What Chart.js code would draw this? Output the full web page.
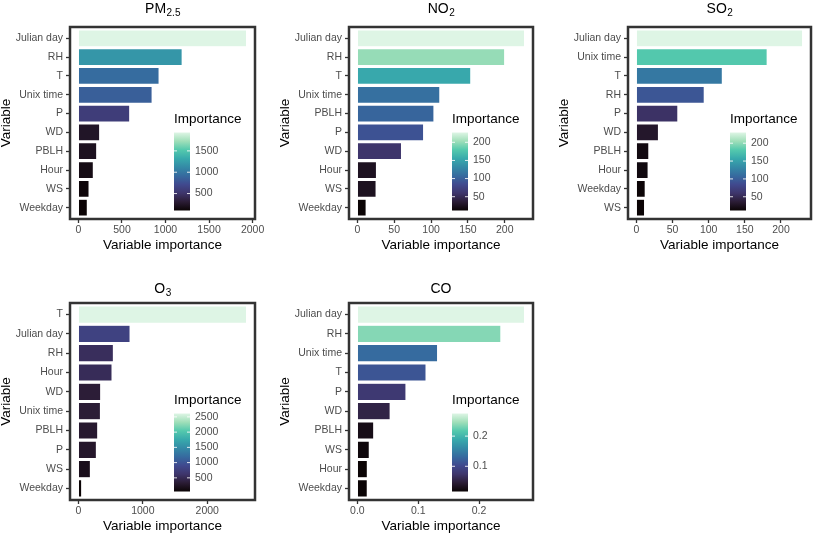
<!DOCTYPE html>
<html>
<head>
<meta charset="utf-8">
<script src="https://cdn.jsdelivr.net/npm/chart.js@4.4.0/dist/chart.umd.min.js"></script>
<style>
  body { margin: 0; background: #fff; width: 813px; height: 534px; position: relative; overflow: hidden; }
  canvas { position: absolute; }
</style>
</head>
<body>
<canvas id="pm25"></canvas>
<canvas id="no2"></canvas>
<canvas id="so2"></canvas>
<canvas id="o3"></canvas>
<canvas id="co"></canvas>
<script>
// ---- data ----
const pm25Vars = ['Julian day', 'RH', 'T', 'Unix time', 'P', 'WD', 'PBLH', 'Hour', 'WS', 'Weekday'];
const pm25Values = [1931, 1192, 927, 847, 590, 245, 211, 172, 123, 103];
const pm25XTicks = ['0', '500', '1000', '1500', '2000'];
const pm25LegendTicks = ['500', '1000', '1500'];

const no2Vars = ['Julian day', 'RH', 'T', 'Unix time', 'PBLH', 'P', 'WD', 'Hour', 'WS', 'Weekday'];
const no2Values = [227, 200, 154, 112, 104, 90, 60, 26, 25.5, 12];
const no2XTicks = ['0', '50', '100', '150', '200'];
const no2LegendTicks = ['50', '100', '150', '200'];

const so2Vars = ['Julian day', 'Unix time', 'T', 'RH', 'P', 'WD', 'PBLH', 'Hour', 'Weekday', 'WS'];
const so2Values = [230, 181, 119, 94, 57.5, 30.7, 17.4, 16.4, 12.4, 11.5];
const so2XTicks = ['0', '50', '100', '150', '200'];
const so2LegendTicks = ['50', '100', '150', '200'];

const o3Vars = ['T', 'Julian day', 'RH', 'Hour', 'WD', 'Unix time', 'PBLH', 'P', 'WS', 'Weekday'];
const o3Values = [2611, 803, 544, 523, 347, 343, 301, 280, 187, 52];
const o3XTicks = ['0', '1000', '2000'];
const o3LegendTicks = ['500', '1000', '1500', '2000', '2500'];

const coVars = ['Julian day', 'RH', 'Unix time', 'T', 'P', 'WD', 'PBLH', 'WS', 'Hour', 'Weekday'];
const coValues = [0.275, 0.236, 0.132, 0.113, 0.080, 0.054, 0.027, 0.0197, 0.0165, 0.0164];
const coXTicks = ['0.0', '0.1', '0.2'];
const coLegendTicks = ['0.1', '0.2'];

// ---- mako palette ----
const MAKO = ['#0B0405', '#2B1C35', '#3E356B', '#40498E', '#366A9F', '#348AA6', '#38AAAC', '#54C9AD', '#A0DFB9', '#DEF5E5'];
function hexRgb(h) {
    return [parseInt(h.slice(1, 3), 16), parseInt(h.slice(3, 5), 16), parseInt(h.slice(5, 7), 16)];
}
function mako(t) {
    t = Math.max(0, Math.min(1, t));
    const p = t * (MAKO.length - 1);
    const i = Math.min(Math.floor(p), MAKO.length - 2);
    const f = p - i;
    const a = hexRgb(MAKO[i]), b = hexRgb(MAKO[i + 1]);
    const c = a.map((v, k) => Math.round(v + (b[k] - v) * f));
    return `rgb(${c[0]},${c[1]},${c[2]})`;
}

const FONT = '"Liberation Sans", Arial, sans-serif';
const TICK_COLOR = '#4d4d4d';
const LINE_COLOR = '#333333';

// panel layout: plot box [left, top, right, bottom] on the page
const panels = [
    { id: 'pm25', title: 'PM', sub: '2.5', vars: pm25Vars, values: pm25Values, xTicks: pm25XTicks, legendTicks: pm25LegendTicks, box: [70, 27, 255, 219], titleBase: 12.5 },
    { id: 'no2', title: 'NO', sub: '2', vars: no2Vars, values: no2Values, xTicks: no2XTicks, legendTicks: no2LegendTicks, box: [349, 27, 533, 219], titleBase: 12.5 },
    { id: 'so2', title: 'SO', sub: '2', vars: so2Vars, values: so2Values, xTicks: so2XTicks, legendTicks: so2LegendTicks, box: [628, 27, 811, 219], titleBase: 12.5 },
    { id: 'o3', title: 'O', sub: '3', vars: o3Vars, values: o3Values, xTicks: o3XTicks, legendTicks: o3LegendTicks, box: [70, 303, 255, 500], titleBase: 17 },
    { id: 'co', title: 'CO', sub: '', vars: coVars, values: coValues, xTicks: coXTicks, legendTicks: coLegendTicks, box: [349, 303, 533, 500], titleBase: 17 }
];

const LEFT_W = 70, TOP_H = 27, BOTTOM_H = 36, RIGHT_PAD = 14;

// Title, panel border and colour bar legend
const decorPlugin = {
    id: 'decor',
    afterDraw(chart, args, opts) {
        const { ctx, chartArea: a } = chart;
        const p = opts.panel;
        ctx.save();

        // border
        ctx.strokeStyle = LINE_COLOR;
        ctx.lineWidth = 2.5;
        ctx.strokeRect(a.left, a.top, a.right - a.left, a.bottom - a.top);

        // title with subscript
        ctx.fillStyle = '#000';
        ctx.textBaseline = 'alphabetic';
        ctx.textAlign = 'left';
        ctx.font = `14px ${FONT}`;
        const wMain = ctx.measureText(p.title).width;
        ctx.font = `10px ${FONT}`;
        const wSub = p.sub ? ctx.measureText(p.sub).width : 0;
        const cx = (a.left + a.right) / 2;
        const x0 = cx - (wMain + wSub) / 2;
        ctx.font = `14px ${FONT}`;
        ctx.fillText(p.title, x0, p.titleBase);
        if (p.sub) {
            ctx.font = `10px ${FONT}`;
            ctx.fillText(p.sub, x0 + wMain + 0.5, p.titleBase + 3);
        }

        // colour bar
        const min = Math.min(...p.values), max = Math.max(...p.values);
        const barL = a.right - 81, barW = 16;
        const barB = a.bottom - 8.5, barT = barB - 78;
        const grad = ctx.createLinearGradient(0, barB, 0, barT);
        MAKO.forEach((c, i) => grad.addColorStop(i / (MAKO.length - 1), c));
        ctx.fillStyle = grad;
        ctx.fillRect(barL, barT, barW, barB - barT);

        ctx.fillStyle = '#000';
        ctx.font = `13.5px ${FONT}`;
        ctx.textBaseline = 'middle';
        ctx.fillText('Importance', barL, a.bottom - 100);

        ctx.font = `10.5px ${FONT}`;
        ctx.fillStyle = TICK_COLOR;
        ctx.strokeStyle = 'rgba(255,255,255,0.85)';
        ctx.lineWidth = 1;
        p.legendTicks.forEach(lbl => {
            const v = Number(lbl);
            const y = barB - (v - min) / (max - min) * (barB - barT);
            ctx.beginPath();
            ctx.moveTo(barL, y); ctx.lineTo(barL + 3, y);
            ctx.moveTo(barL + barW - 3, y); ctx.lineTo(barL + barW, y);
            ctx.stroke();
            ctx.fillText(lbl, barL + barW + 5, y);
        });
        ctx.restore();
    }
};

panels.forEach(p => {
    const cv = document.getElementById(p.id);
    const [bl, bt, br, bb] = p.box;
    cv.style.left = (bl - LEFT_W) + 'px';
    cv.style.top = (bt - TOP_H) + 'px';
    cv.width = (br - bl) + LEFT_W + RIGHT_PAD;
    cv.height = (bb - bt) + TOP_H + BOTTOM_H;

    const min = Math.min(...p.values), max = Math.max(...p.values);
    const points = p.values.map((v, i) => ({ x: v, y: i }));
    const xTickValues = p.xTicks.map(Number);

    new Chart(cv.getContext('2d'), {
        type: 'bar',
        data: {
            datasets: [{
                data: points,
                backgroundColor: p.values.map(v => mako((v - min) / (max - min))),
                borderColor: 'rgba(255,255,255,0.6)',
                borderWidth: 0.6,
                categoryPercentage: 0.9,
                barPercentage: 1
            }]
        },
        options: {
            indexAxis: 'y',
            responsive: false,
            animation: false,
            events: [],
            layout: { padding: { top: TOP_H, right: RIGHT_PAD, left: 0, bottom: 0 } },
            plugins: {
                legend: { display: false },
                tooltip: { enabled: false },
                decor: { panel: p }
            },
            scales: {
                y: {
                    type: 'linear',
                    reverse: true,
                    offset: false,
                    min: -0.6,
                    max: p.vars.length - 0.4,
                    afterBuildTicks: s => { s.ticks = p.vars.map((_, i) => ({ value: i })); },
                    afterFit: s => { s.width = LEFT_W; s.paddingTop = 0; s.paddingBottom = 0; },
                    ticks: {
                        callback: v => p.vars[v],
                        color: TICK_COLOR,
                        font: { family: FONT, size: 10.5 },
                        padding: 3,
                        autoSkip: false
                    },
                    grid: { offset: false, drawOnChartArea: false, drawTicks: true, tickLength: 4, tickColor: LINE_COLOR, tickWidth: 1.3 },
                    border: { display: false },
                    title: {
                        display: true,
                        text: 'Variable',
                        color: '#000',
                        font: { family: FONT, size: 13.5, lineHeight: 1 },
                        padding: { top: 0, bottom: 0 }
                    }
                },
                x: {
                    type: 'linear',
                    min: -0.05 * max,
                    max: 1.05 * max,
                    afterBuildTicks: s => { s.ticks = xTickValues.map(v => ({ value: v })); },
                    afterFit: s => { s.height = BOTTOM_H; s.paddingLeft = 0; s.paddingRight = 0; },
                    ticks: {
                        callback: (v, i) => p.xTicks[i],
                        color: TICK_COLOR,
                        font: { family: FONT, size: 10.5 },
                        padding: 1,
                        maxRotation: 0,
                        autoSkip: false
                    },
                    grid: { drawOnChartArea: false, drawTicks: true, tickLength: 4, tickColor: LINE_COLOR, tickWidth: 1.3 },
                    border: { display: false },
                    title: {
                        display: true,
                        text: 'Variable importance',
                        color: '#000',
                        font: { family: FONT, size: 13.5, lineHeight: 1 },
                        padding: { top: 0, bottom: 3 }
                    }
                }
            }
        },
        plugins: [decorPlugin]
    });
});
</script>
</body>
</html>
